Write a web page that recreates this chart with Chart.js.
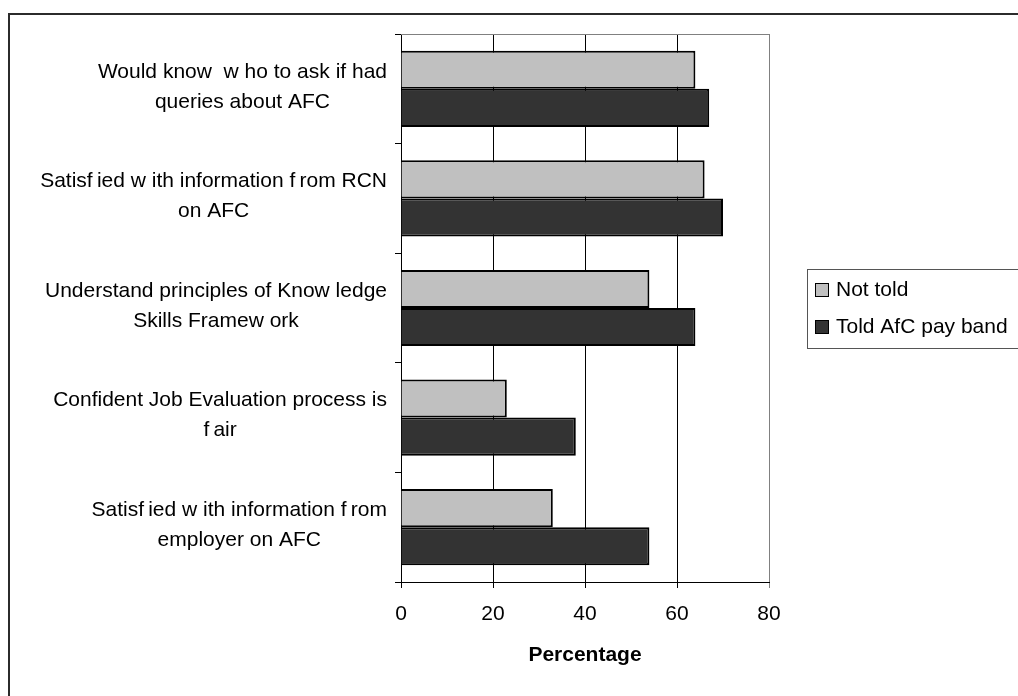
<!DOCTYPE html>
<html>
<head>
<meta charset="utf-8">
<script src="https://cdn.jsdelivr.net/npm/chart.js@4/dist/chart.umd.min.js"></script>
<style>
  html, body { margin: 0; padding: 0; background: #fff; }
  canvas { display: block; }
</style>
</head>
<body>
<canvas id="chart" width="1018" height="696"></canvas>
<script>
// categories (each one split into its label lines)
const categories = [
  ['Would know  w ho to ask if had', 'queries about AFC'],
  ['Satisf\u2009ied w ith information f\u2009rom RCN', 'on AFC'],
  ['Understand principles of Know ledge', 'Skills Framew ork'],
  ['Confident Job Evaluation process is', 'f\u2009air'],
  ['Satisf\u2009ied w ith information f\u2009rom', 'employer on AFC']
];
const notTold = [64, 66, 54, 23, 33];
const toldBand = [67, 70, 64, 38, 54];
const seriesNames = ['Not told', 'Told AfC pay band'];
const xTicks = [0, 20, 40, 60, 80];

const FONT = '"Liberation Sans", Arial, sans-serif';

// outer frame + top edge of the plot box
const frame = {
  id: 'frame',
  beforeDatasetsDraw(chart) {
    const { ctx, chartArea: a } = chart;
    ctx.save();
    ctx.strokeStyle = '#808080';
    ctx.lineWidth = 1;
    ctx.beginPath();
    ctx.moveTo(a.left, Math.floor(a.top) + 0.5);
    ctx.lineTo(a.right, Math.floor(a.top) + 0.5);
    ctx.stroke();
    ctx.restore();
  },
  afterDraw(chart) {
    const ctx = chart.ctx;
    ctx.save();
    ctx.strokeStyle = '#2b2b2b';
    ctx.lineWidth = 2;
    ctx.beginPath();
    ctx.moveTo(9, chart.height);
    ctx.lineTo(9, 14);
    ctx.lineTo(chart.width, 14);
    ctx.stroke();
    ctx.restore();
  }
};

// category labels: each block centred on itself, block right-aligned to the axis
const catLabels = {
  id: 'catLabels',
  afterDraw(chart) {
    const ctx = chart.ctx;
    const y = chart.scales.y;
    const right = y.right - 14;
    ctx.save();
    ctx.font = '21px ' + FONT;
    ctx.fillStyle = '#000';
    ctx.textAlign = 'center';
    ctx.textBaseline = 'middle';
    chart.data.labels.forEach((lines, i) => {
      const w = Math.max(...lines.map(l => ctx.measureText(l).width));
      const cx = right - w / 2;
      const cy = y.getPixelForTick(i);
      const lh = 30;
      const top = cy - (lines.length - 1) * lh / 2 - 2;
      lines.forEach((l, k) => ctx.fillText(l, cx, top + k * lh));
    });
    ctx.restore();
  }
};

// legend box on the right, partly cut by the edge
const sideLegend = {
  id: 'sideLegend',
  afterDraw(chart) {
    const ctx = chart.ctx;
    ctx.save();
    ctx.strokeStyle = '#555';
    ctx.lineWidth = 1;
    ctx.strokeRect(807.5, 269.5, 260, 79);
    ctx.font = '21px ' + FONT;
    ctx.textBaseline = 'middle';
    chart.data.datasets.forEach((ds, i) => {
      const yc = 290 + i * 37;
      ctx.fillStyle = ds.backgroundColor;
      ctx.fillRect(815, yc - 7, 14, 14);
      ctx.strokeStyle = '#000';
      ctx.strokeRect(815.5, yc - 6.5, 13, 13);
      ctx.fillStyle = '#000';
      ctx.fillText(ds.label, 836, yc);
    });
    ctx.restore();
  }
};

new Chart(document.getElementById('chart'), {
  type: 'bar',
  data: {
    labels: categories,
    datasets: [
      { label: seriesNames[0], data: notTold, backgroundColor: '#c0c0c0', borderColor: '#000', borderWidth: 2 },
      { label: seriesNames[1], data: toldBand, backgroundColor: '#333333', borderColor: '#000', borderWidth: 2 }
    ]
  },
  options: {
    indexAxis: 'y',
    responsive: false,
    animation: false,
    events: [],
    categoryPercentage: 0.695,
    barPercentage: 1,
    layout: { padding: { left: 0, top: 34, right: 249, bottom: 0 } },
    plugins: { legend: { display: false }, tooltip: { enabled: false } },
    scales: {
      x: {
        type: 'linear',
        min: xTicks[0],
        max: xTicks[xTicks.length - 1],
        afterBuildTicks: s => { s.ticks = xTicks.map(v => ({ value: v })); },
        afterFit: s => { s.height = 114; },
        ticks: { color: '#000', font: { family: FONT, size: 21 }, padding: 14 },
        grid: {
          color: c => (c.tick && c.tick.value === 80 ? '#808080' : '#000'),
          lineWidth: 1,
          tickLength: 6
        },
        border: { color: '#000', width: 1 },
        title: {
          display: true,
          text: 'Percentage',
          color: '#000',
          font: { family: FONT, size: 21, weight: 'bold' },
          padding: { top: 0, bottom: 28 }
        }
      },
      y: {
        afterFit: s => { s.width = 401; },
        ticks: { display: false },
        grid: { drawOnChartArea: false, drawTicks: true, tickLength: 6, color: '#000', offset: true },
        border: { color: '#000', width: 1 }
      }
    }
  },
  plugins: [frame, catLabels, sideLegend]
});
</script>
</body>
</html>
